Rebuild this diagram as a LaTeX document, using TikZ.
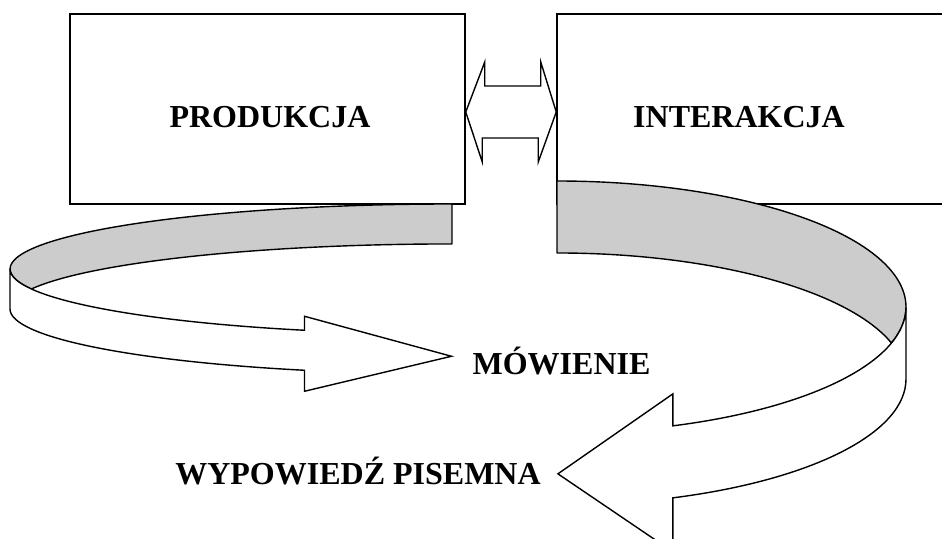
\documentclass[tikz,border=0pt]{standalone}
\usepackage{fontspec}
\setmainfont{Liberation Serif}
\usepackage{xcolor}
\usepackage{tikz}
\usetikzlibrary{positioning, calc}

\definecolor{bandgray}{RGB}{204,204,204}

\begin{document}
\begin{tikzpicture}[x=1pt, y=1pt,
    box/.style={draw, line width=1.5pt, rectangle, inner sep=0pt},
    caption/.style={anchor=base, font=\fontsize{32}{38}\selectfont\bfseries},
    bandback/.style={draw, line width=1.4pt, fill=bandgray, line join=round},
    bandfront/.style={draw, line width=1.4pt, fill=white, line join=miter},
    arrowshape/.style={draw, line width=1.4pt, fill=white, line join=miter}]
        \useasboundingbox (0,0) rectangle (942,538);

        % Boxes
        \node[box, minimum width=395pt, minimum height=190pt] (prod) at (267.5,429) {};
        \node[box, minimum width=400pt, minimum height=190pt] (inter) at (757,429) {};

        % Double arrow between the boxes
        \draw[arrowshape] ([yshift=-3pt]prod.east) -- ++(19,50) -- ++(0,-24) -- ++(56,0) -- ++(0,24)
            -- ([yshift=-3pt]inter.west) -- ++(-18,-50) -- ++(0,24) -- ++(-56,0) -- ++(0,-24) -- cycle;

        % Left ribbon arrow
        \coordinate (ltop) at (452,334);
        \draw[bandback] (ltop) arc[start angle=90, end angle=197.9, x radius=442pt, y radius=65pt]
            arc[start angle=162.1, end angle=90, x radius=442pt, y radius=65pt] -- cycle;
        \draw[bandfront] ([shift={(-442pt,-65pt)}]ltop) arc[start angle=180, end angle=250.5, x radius=442pt, y radius=65pt]
            -- ++(0,14) -- ++(147,-40) -- ++(-147,-35) -- ++(0,21)
            arc[start angle=250.5, end angle=180, x radius=442pt, y radius=65pt] -- cycle;

        % Right ribbon arrow
        \coordinate (rtop) at (557,357);
        \draw[bandback] (rtop) arc[start angle=90, end angle=-16.6, x radius=349pt, y radius=126pt]
            arc[start angle=16.6, end angle=90, x radius=349pt, y radius=126pt] -- cycle;
        \draw[bandfront] ([shift={(349pt,-126pt)}]rtop) arc[start angle=0, end angle=-70.6, x radius=349pt, y radius=126pt]
            -- ++(0,32) -- ++(-115,-80) -- ++(115,-78) -- ++(0,54)
            arc[start angle=-70.6, end angle=0, x radius=349pt, y radius=126pt] -- cycle;

        % Labels
        \node[caption] (prodtext) at (270,410) {PRODUKCJA};
        \node[caption] (intertext) at (739,410) {INTERAKCJA};
        \node[caption] (mowtext) at (561.5,163) {MÓWIENIE};
        \node[caption] (pistext) at (358,53) {WYPOWIEDŹ PISEMNA};

    \end{tikzpicture}
\end{document}
